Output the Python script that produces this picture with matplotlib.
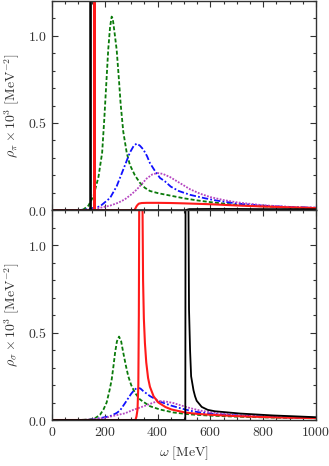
import matplotlib
matplotlib.use("Agg")
import matplotlib.pyplot as plt
from matplotlib.ticker import MultipleLocator, FuncFormatter

plt.rcParams['mathtext.fontset'] = 'cm'
plt.rcParams['font.family'] = ['DejaVu Serif']

# ---------------- data: pion channel (top panel) ----------------
pi_black_w = [0, 145.5, 146, 146.5, 505, 520, 600, 700, 800, 900, 1000]
pi_black_v = [0, 0, 5.0, 0, 0, 0.006, 0.007, 0.007, 0.006, 0.006, 0.005]

pi_red_w = [0, 160.5, 161, 161.5, 312, 316, 320, 325, 330, 340, 360, 400, 450, 500, 600, 700, 800, 900, 1000]
pi_red_v = [0, 0, 5.0, 0, 0, 0.01, 0.022, 0.032, 0.038, 0.041, 0.042, 0.042, 0.041, 0.039, 0.034, 0.027, 0.021, 0.016, 0.012]

pi_green_w = [0, 100, 118, 138, 157, 176, 190, 198, 204, 213, 220, 226, 230, 236, 245, 254, 260, 270, 283, 295, 314, 333, 352, 371, 403, 450, 500, 550, 600, 674, 750, 876, 1000]
pi_green_v = [0, 0, 0.003, 0.026, 0.08, 0.19, 0.33, 0.52, 0.68, 0.92, 1.05, 1.11, 1.10, 1.03, 0.92, 0.74, 0.61, 0.45, 0.33, 0.26, 0.20, 0.157, 0.128, 0.11, 0.097, 0.083, 0.068, 0.056, 0.046, 0.034, 0.025, 0.017, 0.012]

pi_blue_w = [0, 100, 144, 182, 220, 245, 270, 295, 310, 321, 333, 346, 360, 371, 390, 409, 428, 450, 480, 523, 580, 624, 700, 800, 900, 1000]
pi_blue_v = [0, 0, 0.007, 0.022, 0.07, 0.137, 0.233, 0.33, 0.37, 0.382, 0.37, 0.348, 0.31, 0.27, 0.225, 0.185, 0.165, 0.135, 0.11, 0.088, 0.068, 0.055, 0.038, 0.026, 0.018, 0.014]

pi_mag_w = [0, 120, 157, 220, 250, 276, 300, 321, 340, 359, 380, 400, 420, 447, 485, 523, 560, 600, 650, 700, 800, 900, 1000]
pi_mag_v = [0, 0, 0.005, 0.026, 0.042, 0.062, 0.09, 0.118, 0.15, 0.182, 0.205, 0.213, 0.208, 0.19, 0.155, 0.12, 0.095, 0.075, 0.058, 0.045, 0.028, 0.019, 0.014]

# ---------------- data: sigma channel (bottom panel) ----------------
sg_black_w = [0, 505, 506, 509, 514, 516, 519, 523, 527, 536, 542, 548, 567, 590, 617, 712, 838, 1000]
sg_black_v = [0, 0, 1.5, 3.0, 3.0, 1.5, 0.635, 0.4, 0.25, 0.17, 0.135, 0.11, 0.075, 0.058, 0.05, 0.037, 0.026, 0.016]

sg_red_w = [0, 316, 320, 324, 327, 329, 331, 336, 341, 343, 345, 348, 352, 357, 364, 371, 385, 403, 430, 453, 504, 550, 600, 700, 800, 900, 1000]
sg_red_v = [0, 0, 0.02, 0.06, 0.2, 0.6, 1.5, 3.0, 2.0, 1.2, 0.8, 0.58, 0.44, 0.33, 0.24, 0.19, 0.135, 0.1, 0.074, 0.06, 0.043, 0.035, 0.03, 0.022, 0.017, 0.013, 0.011]

sg_green_w = [0, 100, 144, 165, 182, 195, 207, 218, 226, 233, 239, 246, 254, 262, 270, 280, 289, 300, 314, 333, 346, 371, 409, 460, 523, 600, 700, 800, 900, 1000]
sg_green_v = [0, 0, 0.003, 0.012, 0.03, 0.06, 0.1, 0.17, 0.23, 0.31, 0.385, 0.45, 0.477, 0.45, 0.385, 0.31, 0.25, 0.2, 0.156, 0.118, 0.104, 0.079, 0.06, 0.043, 0.032, 0.025, 0.019, 0.015, 0.012, 0.01]

sg_blue_w = [0, 120, 157, 220, 245, 258, 276, 289, 300, 312, 323, 335, 346, 371, 409, 450, 485, 523, 561, 620, 712, 800, 900, 1000]
sg_blue_v = [0, 0, 0.003, 0.022, 0.04, 0.055, 0.095, 0.125, 0.15, 0.172, 0.185, 0.18, 0.165, 0.137, 0.105, 0.083, 0.068, 0.053, 0.043, 0.034, 0.026, 0.02, 0.015, 0.012]

sg_mag_w = [0, 100, 150, 200, 245, 276, 308, 335, 359, 385, 405, 430, 460, 485, 523, 561, 620, 712, 800, 900, 1000]
sg_mag_v = [0, 0, 0.003, 0.012, 0.028, 0.038, 0.058, 0.072, 0.085, 0.1, 0.108, 0.106, 0.097, 0.085, 0.068, 0.054, 0.04, 0.027, 0.02, 0.015, 0.012]

x_major = [0, 200, 400, 600, 800, 1000]
y_major = [0.0, 0.5, 1.0]

GREEN = '#0a7a0a'
BLUE = '#1010ff'
MAG = '#b545c0'
RED = '#ff1a1a'
AX = '#333333'

fig = plt.figure(figsize=(3.29, 4.66), dpi=100)
ax1 = fig.add_axes([0.158, 0.549, 0.8025, 0.449])
ax2 = fig.add_axes([0.158, 0.0987, 0.8025, 0.4503])

def draw(ax, black, red, green, blue, mag):
    ax.plot(*green, color=GREEN, lw=1.3, ls=(0, (2.2, 1.2)))
    ax.plot(*blue, color=BLUE, lw=1.3, ls=(0, (3.5, 1.2, 1.0, 1.2)))
    ax.plot(*mag, color=MAG, lw=1.3, ls=(0, (1.0, 0.8)))
    ax.plot(*red, color=RED, lw=1.5)
    ax.plot(*black, color='black', lw=1.3)

draw(ax1, (pi_black_w, pi_black_v), (pi_red_w, pi_red_v), (pi_green_w, pi_green_v),
     (pi_blue_w, pi_blue_v), (pi_mag_w, pi_mag_v))
draw(ax2, (sg_black_w, sg_black_v), (sg_red_w, sg_red_v), (sg_green_w, sg_green_v),
     (sg_blue_w, sg_blue_v), (sg_mag_w, sg_mag_v))

xfmt = FuncFormatter(lambda v, p: r'$%d$' % round(v))
yfmt = FuncFormatter(lambda v, p: r'$%.1f$' % v)

for ax in (ax1, ax2):
    ax.set_xlim(0, 1000)
    ax.set_ylim(0, 1.2)
    ax.set_xticks(x_major)
    ax.set_yticks(y_major)
    ax.xaxis.set_minor_locator(MultipleLocator(50))
    ax.yaxis.set_minor_locator(MultipleLocator(0.1))
    ax.tick_params(which='both', direction='in', top=True, right=True,
                   colors=AX, labelsize=10, labelcolor=AX, width=0.8)
    ax.tick_params(which='major', length=4.5)
    ax.tick_params(which='minor', length=2.5)
    ax.yaxis.set_major_formatter(yfmt)
    ax.xaxis.set_major_formatter(xfmt)
    for s in ax.spines.values():
        s.set_color(AX)
        s.set_linewidth(1.0)

ax1.tick_params(labelbottom=False)
ax1.set_ylabel(r'$\rho_\pi \times 10^3\ [\mathrm{MeV}^{-2}]$', fontsize=10, color=AX, labelpad=4)
ax2.set_ylabel(r'$\rho_\sigma \times 10^3\ [\mathrm{MeV}^{-2}]$', fontsize=10, color=AX, labelpad=4)
ax2.set_xlabel(r'$\omega\ [\mathrm{MeV}]$', fontsize=10, color=AX, labelpad=4)

fig.savefig('out.png', dpi=100)
